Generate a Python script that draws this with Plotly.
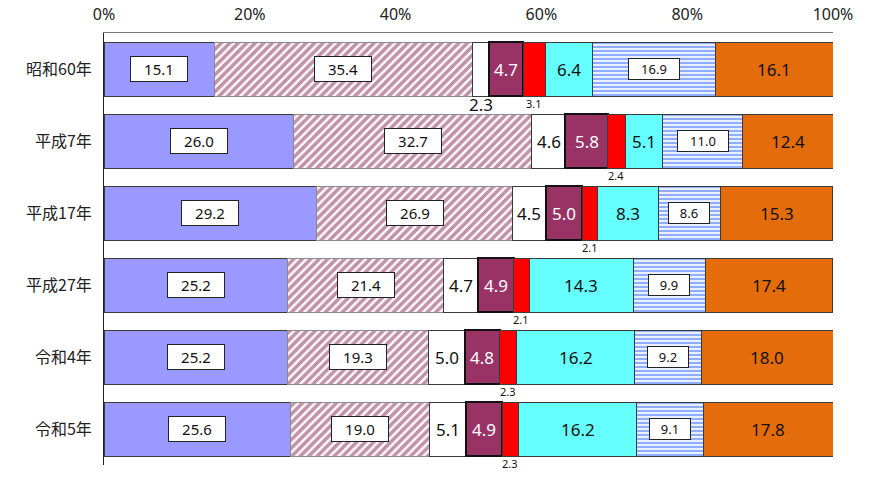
import plotly.graph_objects as go

years = ["昭和60年", "平成7年", "平成17年", "平成27年", "令和4年", "令和5年"]

seg1 = [15.1, 26.0, 29.2, 25.2, 25.2, 25.6]
seg2 = [35.4, 32.7, 26.9, 21.4, 19.3, 19.0]
seg3 = [2.3, 4.6, 4.5, 4.7, 5.0, 5.1]
seg4 = [4.7, 5.8, 5.0, 4.9, 4.8, 4.9]
seg5 = [3.1, 2.4, 2.1, 2.1, 2.3, 2.3]
seg6 = [6.4, 5.1, 8.3, 14.3, 16.2, 16.2]
seg7 = [16.9, 11.0, 8.6, 9.9, 9.2, 9.1]
seg8 = [16.1, 12.4, 15.3, 17.4, 18.0, 17.8]

xticks = [0, 20, 40, 60, 80, 100]

FONT = "Noto Sans, Noto Sans CJK JP, sans-serif"
EDGE = "#3a3a3a"

series = [seg1, seg2, seg3, seg4, seg5, seg6, seg7, seg8]
styles = [
    dict(color="#9999FF", line=dict(color=EDGE, width=1)),
    dict(color="white", line=dict(color="#8a8a8a", width=1),
         pattern=dict(shape="/", fgcolor="#832552", bgcolor="white", size=6, solidity=0.6)),
    dict(color="white", line=dict(color=EDGE, width=1)),
    dict(color="#993366", line=dict(color="#111111", width=2)),
    dict(color="#FF0000", line=dict(color=EDGE, width=1)),
    dict(color="#66FFFF", line=dict(color=EDGE, width=1)),
    dict(color="white", line=dict(color=EDGE, width=1),
         pattern=dict(shape="-", fgcolor="#1F5CFF", bgcolor="white", size=4, solidity=0.6)),
    dict(color="#E46C0A", line=dict(color=EDGE, width=1)),
]

fig = go.Figure()
for vals, st in zip(series, styles):
    fig.add_trace(go.Bar(
        y=years, x=vals, orientation="h", marker=st,
        hoverinfo="skip", showlegend=False,
    ))

annotations = []
for r, yr in enumerate(years):
    left = 0.0
    for k, vals in enumerate(series):
        v = vals[r]
        mid = left + v / 2
        left += v
        txt = f"{v:.1f}"
        base = dict(x=mid, y=yr, xref="x", yref="y", text=txt, showarrow=False)
        if k in (0, 1):
            annotations.append(dict(base, font=dict(family=FONT, size=15, color="#111"),
                                    bgcolor="white", bordercolor="#222", borderwidth=1,
                                    borderpad=1, width=54, height=22))
        elif k == 6:
            w = 38 if len(txt) <= 3 else 48
            annotations.append(dict(base, font=dict(family=FONT, size=13, color="#111"),
                                    bgcolor="white", bordercolor="#222", borderwidth=1,
                                    borderpad=1, width=w, height=18))
        elif k == 4:
            annotations.append(dict(base, yshift=-34,
                                    font=dict(family=FONT, size=11, color="#111")))
        elif k == 2 and v < 3:
            annotations.append(dict(base, yshift=-35,
                                    font=dict(family=FONT, size=17, color="#111")))
        elif k == 3:
            annotations.append(dict(base, font=dict(family=FONT, size=17, color="white")))
        else:
            annotations.append(dict(base, font=dict(family=FONT, size=17, color="#111")))

annotations.append(dict(
    x=-0.128, y=-0.036, xref="paper", yref="paper", xanchor="left", yanchor="top",
    text="【男性】", showarrow=False,
    font=dict(family="Noto Sans CJK JP", size=18, color="#111"),
))

fig.update_layout(
    width=869, height=485,
    margin=dict(l=104, r=36, t=33, b=20),
    barmode="stack", bargap=0.25,
    plot_bgcolor="white", paper_bgcolor="white",
    annotations=annotations,
    xaxis=dict(
        side="top", range=[0, 100], tickvals=xticks,
        ticktext=[f"{t}%" for t in xticks], automargin=False,
        showgrid=False, zeroline=False, showline=True, linecolor="#777", linewidth=1,
        ticks="", ticklabelstandoff=6, tickfont=dict(family=FONT, size=16, color="#222"),
    ),
    yaxis=dict(
        categoryorder="array", categoryarray=years, range=[5.5, -0.5],
        automargin=False,
        showgrid=False, zeroline=False, showline=True, linecolor="#222", linewidth=1,
        ticks="", ticklabelstandoff=8,
        tickfont=dict(family="Noto Sans CJK JP", size=16, color="#222"),
    ),
)

fig.write_html("out.html")
